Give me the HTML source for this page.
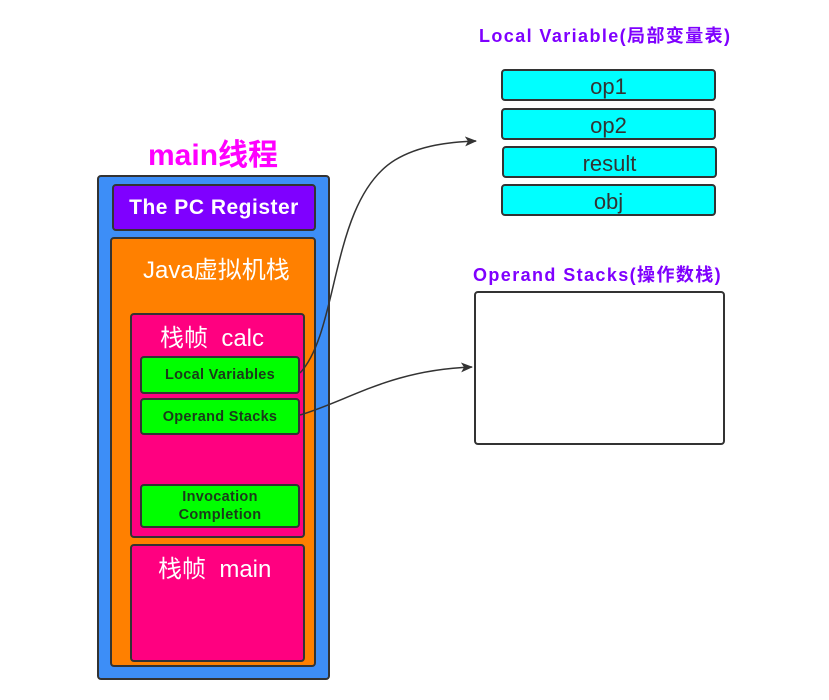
<!DOCTYPE html>
<html><head><style>
body{margin:0;width:829px;height:700px;background:#fff;position:relative;overflow:hidden;font-family:"Liberation Sans","Noto Sans CJK SC",sans-serif}
.b{position:absolute;box-sizing:border-box;border:2px solid #333;border-radius:4px}
.t{position:absolute;white-space:nowrap}
.g{background:#00ff00;color:#1a3a1a;font-weight:bold;font-size:14.5px;letter-spacing:0.3px;text-align:center;display:flex;align-items:center;justify-content:center;line-height:18px}
.c{background:#00ffff;color:#333;font-size:22px;text-align:center;line-height:31px}
</style></head><body>
<div class="t" style="left:148px;top:130px;font-size:30px;font-weight:bold;color:#ff00ff">main线程</div>
<div class="b" style="left:97px;top:175px;width:233px;height:505px;background:#3d8ef7"></div>
<div class="b" style="left:112px;top:184px;width:204px;height:47px;background:#7f00ff;color:#fff;font-weight:bold;font-size:21px;letter-spacing:0.5px;text-align:center;line-height:44px">The PC Register</div>
<div class="b" style="left:110px;top:237px;width:206px;height:430px;background:#ff8000"></div>
<div class="t" style="left:143px;top:250px;font-size:24px;color:#fff">Java虚拟机栈</div>
<div class="b" style="left:130px;top:313px;width:175px;height:225px;background:#ff0080"></div>
<div class="t" style="left:160px;top:318px;font-size:24px;color:#fff">栈帧&nbsp; calc</div>
<div class="b g" style="left:140px;top:356px;width:160px;height:38px">Local Variables</div>
<div class="b g" style="left:140px;top:398px;width:160px;height:37px">Operand Stacks</div>
<div class="b g" style="left:140px;top:484px;width:160px;height:44px">Invocation<br>Completion</div>
<div class="b" style="left:130px;top:544px;width:175px;height:118px;background:#ff0080"></div>
<div class="t" style="left:158px;top:549px;font-size:24px;color:#fff">栈帧&nbsp; main</div>
<div class="t" style="left:479px;top:22px;font-size:18px;font-weight:bold;color:#7f00ff;letter-spacing:1.4px">Local Variable(局部变量表)</div>
<div class="b c" style="left:501px;top:69px;width:215px;height:32px">op1</div>
<div class="b c" style="left:501px;top:108px;width:215px;height:32px">op2</div>
<div class="b c" style="left:502px;top:146px;width:215px;height:32px">result</div>
<div class="b c" style="left:501px;top:184px;width:215px;height:32px">obj</div>
<div class="t" style="left:473px;top:261px;font-size:18px;font-weight:bold;color:#7f00ff;letter-spacing:1.4px">Operand Stacks(操作数栈)</div>
<div class="b" style="left:474px;top:291px;width:251px;height:154px;background:#fff"></div>
<svg style="position:absolute;left:0;top:0" width="829" height="700">
<defs><marker id="a" markerWidth="12" markerHeight="10" refX="11" refY="5" orient="auto" markerUnits="userSpaceOnUse"><path d="M0,0 L12,5 L0,10 L3,5z" fill="#333"/></marker></defs>
<path d="M300,373 C340,330 330,200 395,160 C420,145 450,142 476,141" fill="none" stroke="#333" stroke-width="1.5" marker-end="url(#a)"/>
<path d="M300,415 C350,400 390,370 472,367" fill="none" stroke="#333" stroke-width="1.5" marker-end="url(#a)"/>
</svg>
</body></html>
